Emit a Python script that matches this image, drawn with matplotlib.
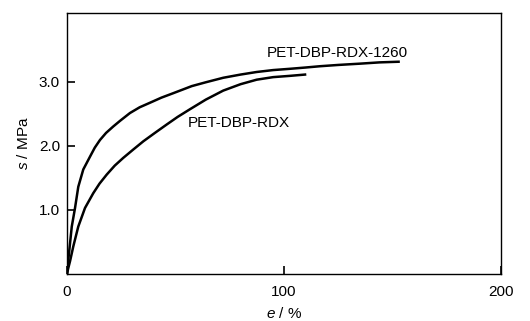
import matplotlib
matplotlib.use('Agg')
import matplotlib.pyplot as plt

plt.rcParams['font.family'] = ['Liberation Sans', 'DejaVu Sans']
plt.rcParams['mathtext.fontset'] = 'custom'
plt.rcParams['mathtext.rm'] = 'Liberation Sans'
plt.rcParams['mathtext.it'] = 'Liberation Sans:italic'

# PET-DBP-RDX-1260 (obere Kurve)
e_1260 = [0, 0.6, 1.4, 2.2, 3.7, 5.2, 7.5, 10.6, 12.8, 15.2, 18.0, 21.3, 24.5, 29.0,
          33.5, 38.2, 43.5, 49.0, 57.5, 64.0, 72.0, 80.0, 87.4, 95.0, 102.8, 110.0,
          116.6, 125.0, 135.0, 144.0, 152.8]
s_1260 = [0, 0.22, 0.48, 0.74, 1.03, 1.36, 1.63, 1.83, 1.97, 2.09, 2.20, 2.30, 2.39, 2.51,
          2.60, 2.67, 2.75, 2.82, 2.93, 2.99, 3.06, 3.11, 3.15, 3.18, 3.20, 3.22,
          3.24, 3.26, 3.28, 3.30, 3.31]

# PET-DBP-RDX (untere Kurve)
e_rdx = [0, 0.5, 1.4, 2.9, 5.2, 8.3, 12.1, 15.0, 18.3, 22.0, 25.9, 30.5, 35.2, 40.5,
         45.9, 51.0, 56.7, 64.0, 72.0, 80.0, 87.4, 95.0, 102.8, 109.7]
s_rdx = [0, 0.08, 0.2, 0.43, 0.74, 1.03, 1.26, 1.41, 1.55, 1.69, 1.81, 1.94, 2.07, 2.20,
         2.33, 2.45, 2.57, 2.72, 2.86, 2.96, 3.03, 3.07, 3.09, 3.11]

fig = plt.figure(figsize=(5.3, 3.21), dpi=100)
ax = fig.add_axes([67/530, 1 - 274/321, (501-67)/530, (274-13)/321])

ax.plot(e_1260, s_1260, 'k-', lw=1.8)
ax.plot(e_rdx, s_rdx, 'k-', lw=1.8)

ax.text(92.2, 3.44, 'PET-DBP-RDX-1260', fontsize=11, va='center', ha='left')
ax.text(55.8, 2.36, 'PET-DBP-RDX', fontsize=11, va='center', ha='left')

ax.set_xlim(0, 200)
ax.set_ylim(0, 4.07)
ax.set_xticks([0, 100, 200])
ax.set_xticklabels(['0', '100', '200'])
ax.set_yticks([1.0, 2.0, 3.0])
ax.set_yticklabels(['1.0', '2.0', '3.0'])
ax.tick_params(direction='in', length=6, width=1.2, labelsize=11, colors='black', pad=5)
ax.tick_params(axis='x', pad=8)
for sp in ax.spines.values():
    sp.set_linewidth(1.0)

ax.set_xlabel(r'$\mathit{e}$ / %', fontsize=11, labelpad=5)
ax.set_ylabel(r'$\mathit{s}$ / MPa', fontsize=11, labelpad=6)

fig.savefig('out.png', dpi=100)
